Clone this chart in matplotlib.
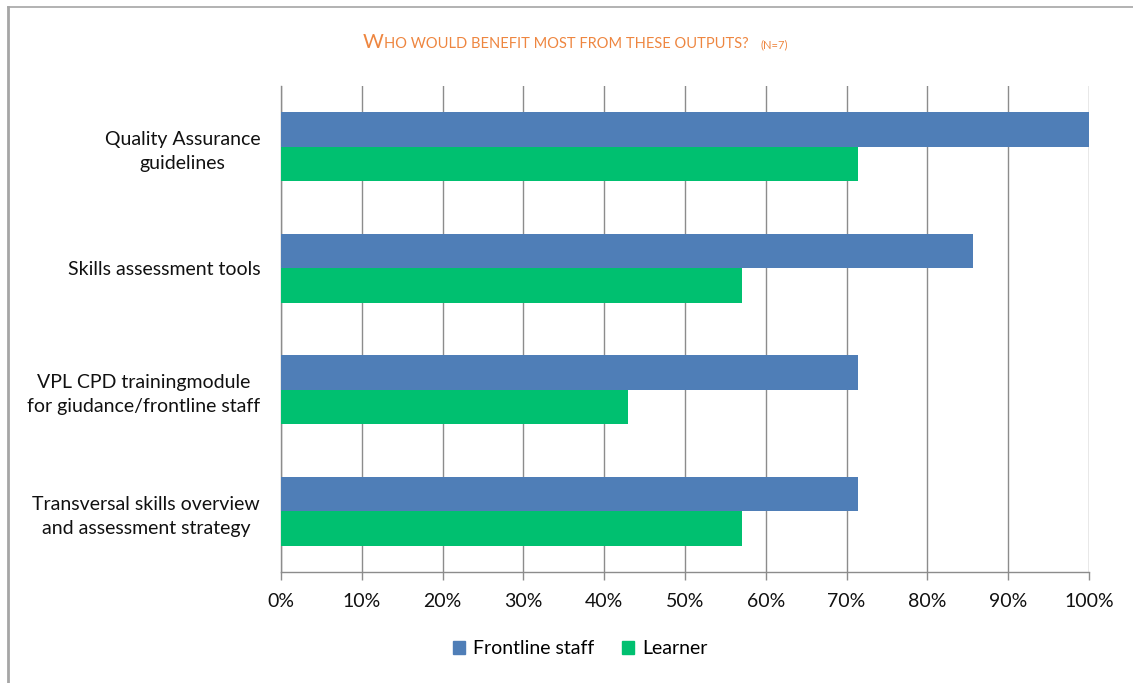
import matplotlib
matplotlib.use("Agg")
import matplotlib.pyplot as plt
from matplotlib.lines import Line2D
from matplotlib.patches import Patch
import numpy as np

categories = ["Quality Assurance\nguidelines",
              "Skills assessment tools",
              "VPL CPD trainingmodule\nfor giudance/frontline staff",
              "Transversal skills overview\nand assessment strategy"]
frontline = [100.0, 85.7, 71.4, 71.4]
learner = [71.4, 57.1, 42.9, 57.1]
series_names = ["Frontline staff", "Learner"]
xticks = [0, 10, 20, 30, 40, 50, 60, 70, 80, 90, 100]
xticklabels = [f"{v}%" for v in xticks]

BLUE = "#4F7EB7"
GREEN = "#00C070"
GRID = "#8C8C8C"
FONT = ["Lato", "DejaVu Sans"]
FS = 14

plt.rcParams["font.family"] = FONT

W, H = 1133, 683
fig = plt.figure(figsize=(W/100, H/100), dpi=100)
ax = fig.add_axes([281/W, 1 - 572/H, (1089-281)/W, (572-86)/H])

y = np.arange(len(categories))
h = 0.285
ax.barh(y - h/2, frontline, height=h, color=BLUE, label=series_names[0], zorder=3)
ax.barh(y + h/2, learner, height=h, color=GREEN, label=series_names[1], zorder=3)

ax.set_ylim(len(categories) - 0.5, -0.5)
ax.set_xlim(0, 100)
ax.set_yticks(y)
ax.set_yticklabels(categories, fontsize=FS, ha="right", color="#111111")
for lab in ax.get_yticklabels():
    lab.set_multialignment("center")
    lab.set_linespacing(1.5)
ax.tick_params(axis="y", length=0, pad=15)
ax.set_xticks(xticks)
ax.set_xticklabels(xticklabels, fontsize=FS, color="#111111")
ax.tick_params(axis="x", direction="out", length=6, color=GRID, width=1, pad=9)
ax.xaxis.grid(True, color=GRID, linewidth=1, zorder=0)
for s in ["top", "right"]:
    ax.spines[s].set_visible(False)
for s in ["left", "bottom"]:
    ax.spines[s].set_color(GRID)
    ax.spines[s].set_linewidth(1)

# Title in small caps style, chained left to right
orange = "#EE8640"
renderer = fig.canvas.get_renderer()
ty = 1 - 48/H
x = 363/W
pieces = [("W", 14.5, 0), ("HO WOULD BENEFIT MOST FROM THESE OUTPUTS?", 10.55, 12), ("(N=7)", 8, 0)]
for txt, fs, gap in pieces:
    t = fig.text(x, ty, txt, fontsize=fs, color=orange, ha="left", va="baseline")
    bb = t.get_window_extent(renderer=renderer)
    x = (bb.x1 + gap) / W

handles = [Patch(facecolor=BLUE, edgecolor=BLUE), Patch(facecolor=GREEN, edgecolor=GREEN)]
fig.legend(handles, series_names, loc="center", bbox_to_anchor=(580/W, 1 - 649/H),
           ncol=2, frameon=False, fontsize=FS, handlelength=0.65, handleheight=0.65,
           handletextpad=0.4, columnspacing=1.4)

# chart border
fig.add_artist(Line2D([8/W, 8/W], [0, 1 - 7/H], transform=fig.transFigure,
                      color="#A6A6A6", linewidth=2))
fig.add_artist(Line2D([8/W, 1], [1 - 7/H, 1 - 7/H], transform=fig.transFigure,
                      color="#A6A6A6", linewidth=1.2))

fig.savefig("out.png", dpi=100)
